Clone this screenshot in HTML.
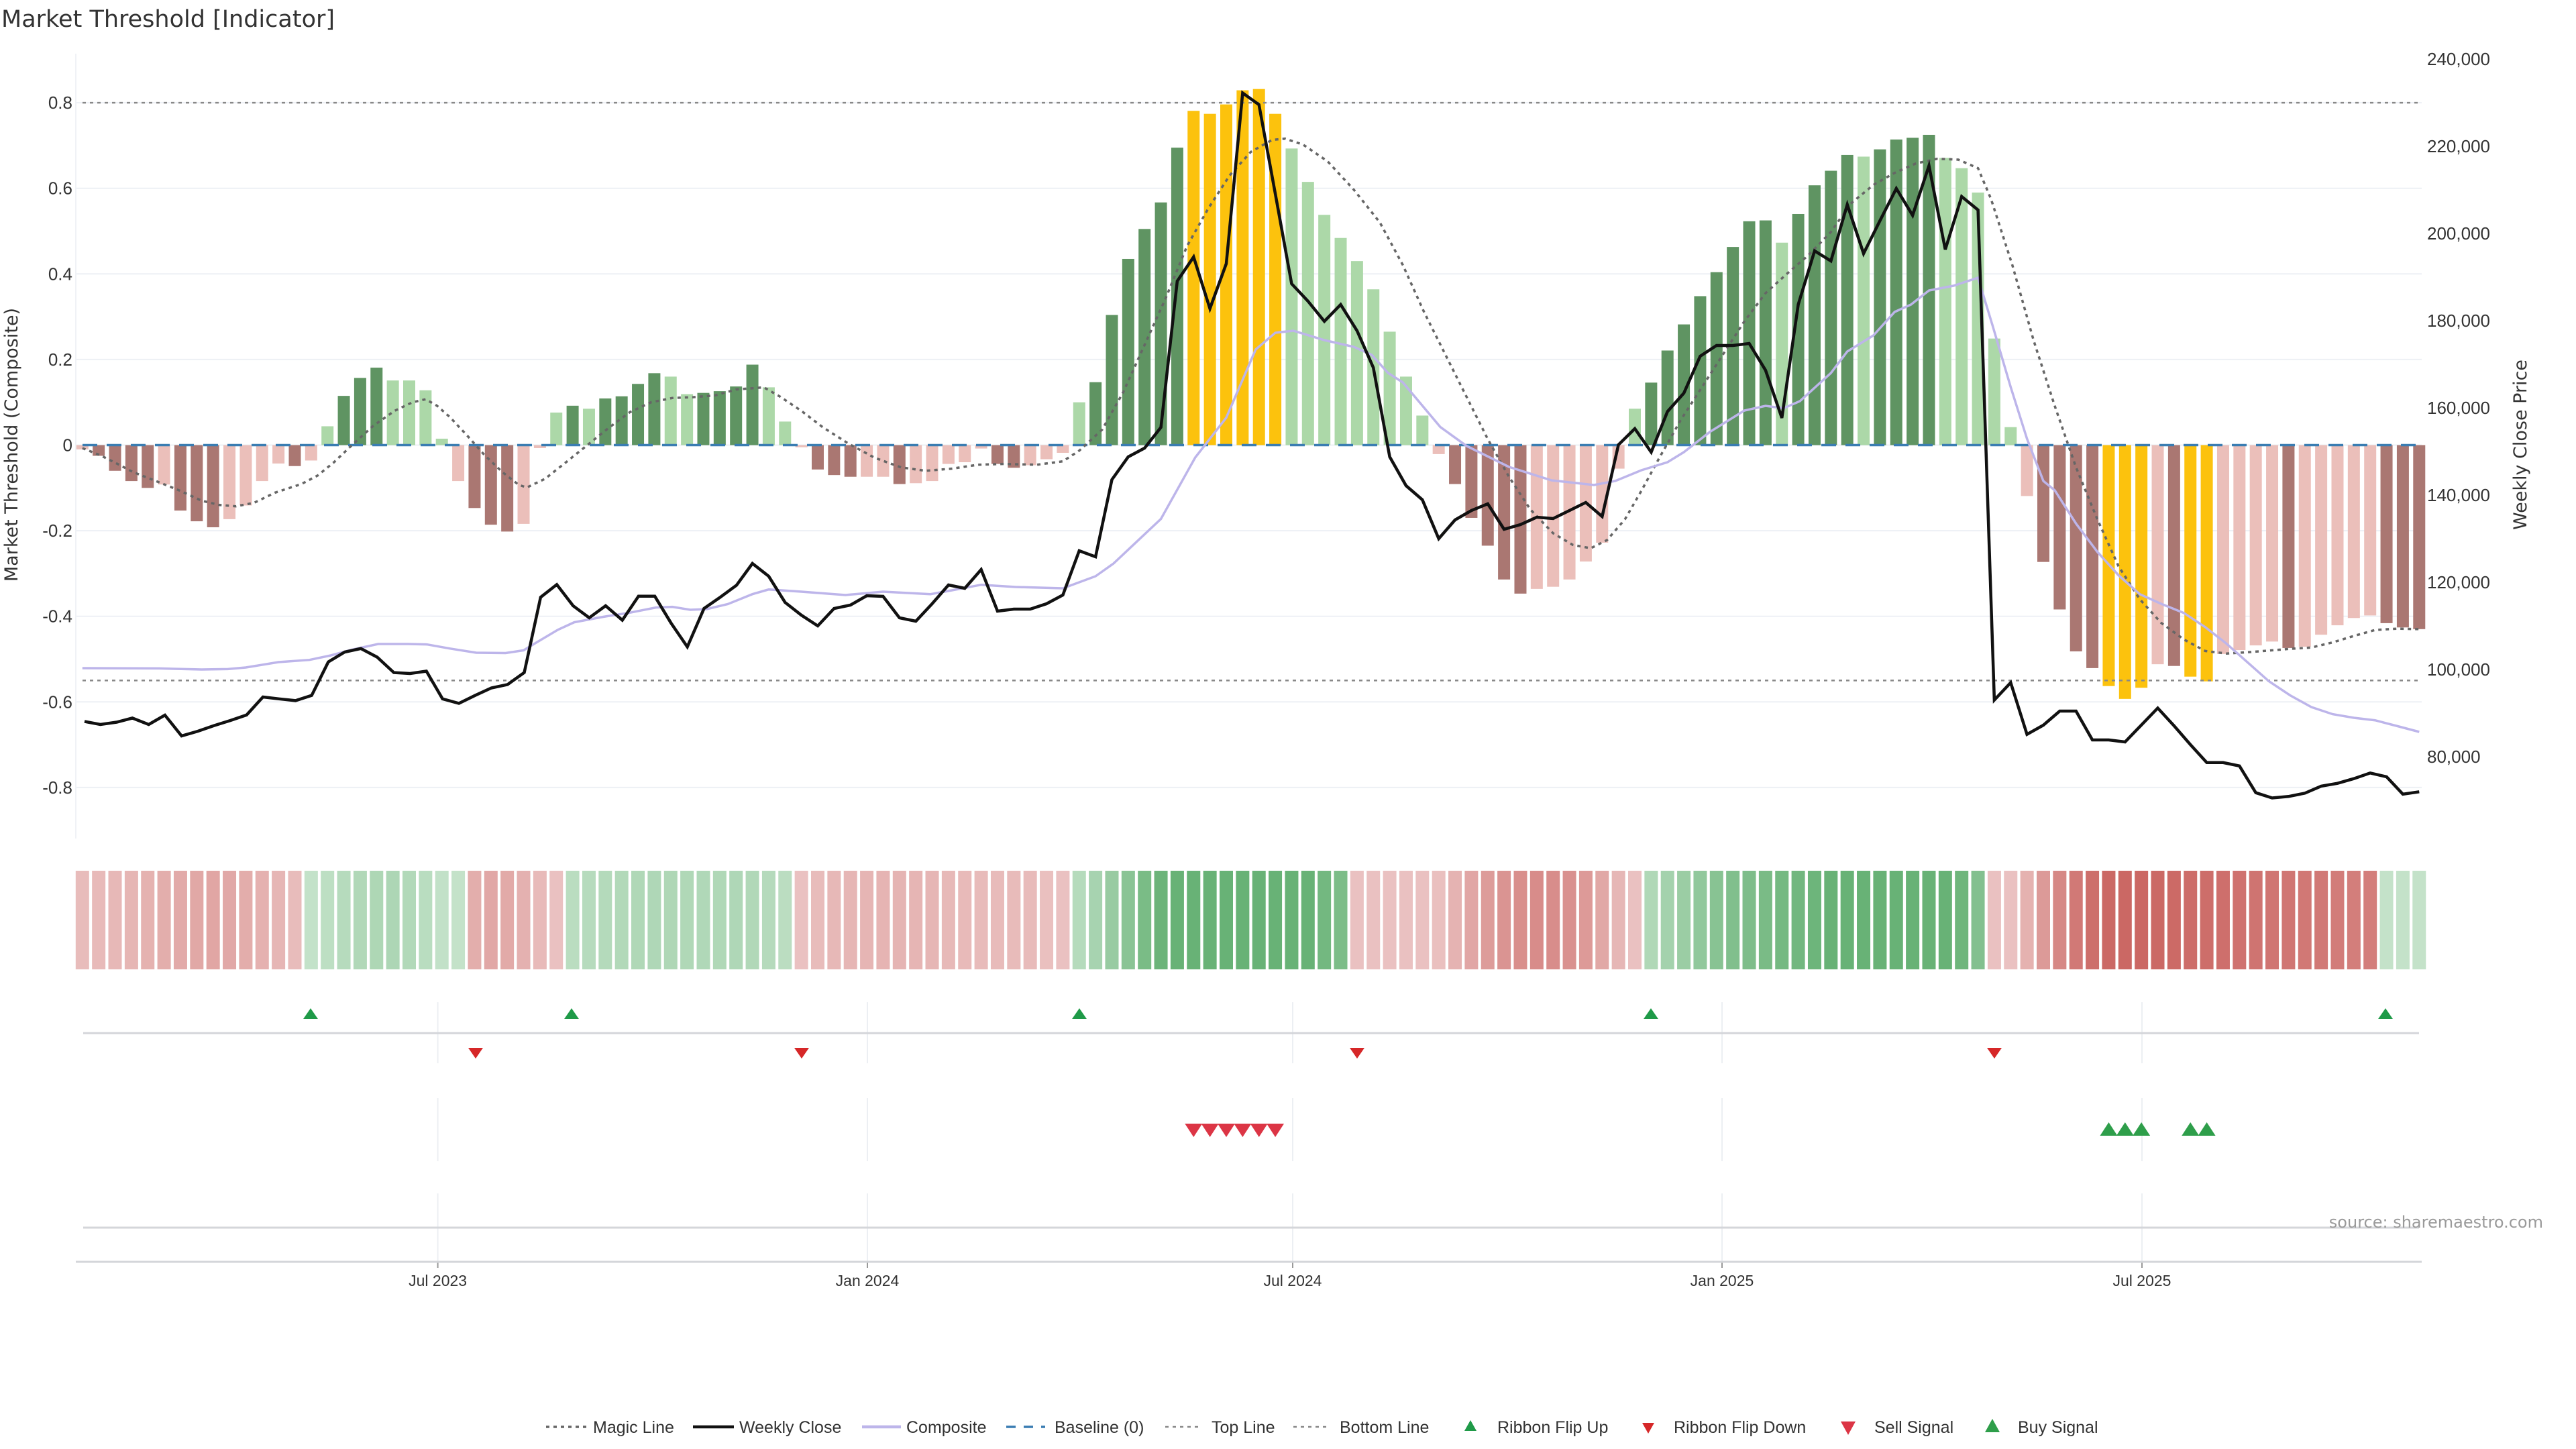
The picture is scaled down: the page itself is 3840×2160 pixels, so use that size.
<!DOCTYPE html>
<html><head><meta charset="utf-8">
<style>
html,body{margin:0;padding:0;background:#fff;}
svg{display:block;}
text{font-family:"Liberation Sans","DejaVu Sans",sans-serif;}
.dv{font-family:"DejaVu Sans","Liberation Sans",sans-serif;}
</style></head>
<body>
<svg id="s" xmlns="http://www.w3.org/2000/svg" width="3840" height="2160" viewBox="0 0 3840 2160" fill="#333">
<rect width="3840" height="2160" fill="#fff"/>
<text class="dv" x="2" y="40" font-size="35" fill="#333">Market Threshold [Indicator]</text>
<text class="dv" transform="translate(26,663) rotate(-90)" text-anchor="middle" font-size="27" fill="#333">Market Threshold (Composite)</text>
<text class="dv" transform="translate(3766,663) rotate(-90)" text-anchor="middle" font-size="27" fill="#333">Weekly Close Price</text>
<g id="g" fill="#333"></g>
<text class="dv" x="3791" y="1830" text-anchor="end" font-size="24" fill="#9a9a9a">source: sharemaestro.com</text>
</svg>
<script>
var NS="http://www.w3.org/2000/svg",G=document.getElementById("g");
function el(t,a,txt){var e=document.createElementNS(NS,t);for(var k in a)e.setAttribute(k,a[k]);if(txt!==undefined)e.textContent=txt;G.appendChild(e);return e;}
var X0=122.8,P=24.36,Z=663.5,U=638;
function X(i){return X0+P*i;}function Y(v){return Z-v*U;}
for(var k=-4;k<=4;k++){var v=k*0.2,y=Y(v);
 el("line",{x1:113,x2:3610,y1:y,y2:y,stroke:"#edf0f5","stroke-width":2});
 el("text",{x:108,y:y+9,"text-anchor":"end","font-size":26,fill:"#333"},(k==0?"0":v.toFixed(1)));}
el("line",{x1:113,x2:113,y1:80,y2:1250,stroke:"#f0f2f6","stroke-width":2});
for(var p=80000;p<=240000;p+=20000){var y=217.9+(220000-p)/20000*130;
 el("text",{x:3618,y:y+9,"font-size":26,fill:"#333"},p.toLocaleString("en-US"));}
var B=[[-0.01,'r'],[-0.025,'R'],[-0.06,'R'],[-0.084,'R'],[-0.1,'R'],[-0.092,'r'],[-0.153,'R'],[-0.178,'R'],[-0.192,'R'],[-0.173,'r'],[-0.141,'r'],[-0.084,'r'],[-0.043,'r'],[-0.049,'R'],[-0.036,'r'],[0.044,'g'],[0.115,'G'],[0.157,'G'],[0.181,'G'],[0.151,'g'],[0.151,'g'],[0.128,'g'],[0.015,'g'],[-0.084,'r'],[-0.147,'R'],[-0.186,'R'],[-0.202,'R'],[-0.184,'r'],[-0.007,'r'],[0.076,'g'],[0.092,'G'],[0.085,'g'],[0.109,'G'],[0.114,'G'],[0.143,'G'],[0.168,'G'],[0.16,'g'],[0.119,'g'],[0.122,'G'],[0.126,'G'],[0.137,'G'],[0.188,'G'],[0.135,'g'],[0.055,'g'],[-0.005,'r'],[-0.057,'R'],[-0.07,'R'],[-0.074,'R'],[-0.074,'r'],[-0.074,'r'],[-0.091,'R'],[-0.089,'r'],[-0.084,'r'],[-0.044,'r'],[-0.04,'r'],[-0.008,'r'],[-0.044,'R'],[-0.053,'R'],[-0.047,'r'],[-0.033,'r'],[-0.018,'r'],[0.10,'g'],[0.147,'G'],[0.304,'G'],[0.435,'G'],[0.505,'G'],[0.567,'G'],[0.695,'G'],[0.781,'Y'],[0.774,'Y'],[0.796,'Y'],[0.829,'Y'],[0.832,'Y'],[0.774,'Y'],[0.693,'g'],[0.615,'g'],[0.538,'g'],[0.484,'g'],[0.43,'g'],[0.364,'g'],[0.265,'g'],[0.16,'g'],[0.069,'g'],[-0.021,'r'],[-0.091,'R'],[-0.17,'R'],[-0.235,'R'],[-0.314,'R'],[-0.347,'R'],[-0.336,'r'],[-0.331,'r'],[-0.314,'r'],[-0.272,'r'],[-0.228,'r'],[-0.055,'r'],[0.085,'g'],[0.146,'G'],[0.221,'G'],[0.282,'G'],[0.348,'G'],[0.404,'G'],[0.463,'G'],[0.523,'G'],[0.525,'G'],[0.473,'g'],[0.54,'G'],[0.607,'G'],[0.641,'G'],[0.678,'G'],[0.674,'g'],[0.691,'G'],[0.714,'G'],[0.718,'G'],[0.725,'G'],[0.671,'g'],[0.647,'g'],[0.59,'g'],[0.249,'g'],[0.042,'g'],[-0.119,'r'],[-0.273,'R'],[-0.384,'R'],[-0.482,'R'],[-0.521,'R'],[-0.563,'Y'],[-0.593,'Y'],[-0.567,'Y'],[-0.512,'r'],[-0.516,'R'],[-0.541,'Y'],[-0.552,'Y'],[-0.488,'r'],[-0.479,'r'],[-0.468,'r'],[-0.459,'r'],[-0.474,'R'],[-0.471,'r'],[-0.443,'r'],[-0.421,'r'],[-0.404,'r'],[-0.398,'r'],[-0.416,'R'],[-0.426,'R'],[-0.43,'R']];
var C={G:"#5f9462",g:"#acd8a8",R:"#aa7772",r:"#ebbfba",Y:"#fcc20d"};
B.forEach(function(b,i){var y1=Y(b[0]),t=Math.min(y1,Z),h=Math.abs(y1-Z);
 el("rect",{x:X(i)-9,y:t,width:18,height:Math.max(h,1.5),fill:C[b[1]]});});
el("line",{x1:123,x2:3606,y1:Y(0.8),y2:Y(0.8),stroke:"#888","stroke-width":2.5,"stroke-dasharray":"5,6"});
el("line",{x1:123,x2:3606,y1:Y(-0.55),y2:Y(-0.55),stroke:"#888","stroke-width":2.5,"stroke-dasharray":"5,6"});
el("line",{x1:123,x2:3606,y1:Z,y2:Z,stroke:"#3a7db2","stroke-width":3.5,"stroke-dasharray":"22,14"});
var M=[[0,-0.007],[1.05,-0.023],[2.1,-0.043],[3.1,-0.063],[4.7,-0.087],[6,-0.107],[7.3,-0.13],[8.4,-0.14],[9.4,-0.143],[10.5,-0.135],[11.8,-0.111],[13.4,-0.091],[14.4,-0.071],[15.4,-0.04],[16.5,0],[17.8,0.045],[19.1,0.08],[20.2,0.1],[21,0.107],[21.7,0.092],[22.5,0.065],[23.6,0.02],[24.6,-0.023],[25.7,-0.063],[26.7,-0.093],[27.2,-0.099],[28.3,-0.079],[29.6,-0.04],[30.9,0],[32.2,0.04],[33.5,0.077],[34.8,0.1],[36.1,0.11],[37.4,0.112],[38.7,0.116],[40,0.13],[41.7,0.135],[42.7,0.113],[44,0.08],[45.3,0.042],[46.9,0.003],[48.5,-0.03],[50.1,-0.052],[51.6,-0.06],[53.2,-0.055],[54.8,-0.046],[56.3,-0.044],[58.4,-0.046],[60,-0.038],[61,-0.013],[62.4,0.036],[63.7,0.124],[65,0.234],[66.3,0.344],[67.6,0.465],[68.9,0.553],[70.2,0.63],[71.5,0.685],[72.8,0.713],[73.6,0.716],[74.7,0.702],[76.2,0.663],[77.8,0.597],[79.4,0.52],[80.8,0.421],[82.1,0.311],[83.4,0.212],[84.7,0.113],[86,0.014],[87.3,-0.074],[88.6,-0.15],[90,-0.206],[91.2,-0.233],[92.3,-0.241],[93.3,-0.222],[94.4,-0.173],[95.4,-0.107],[96.5,-0.03],[97.8,0.058],[99.1,0.135],[100.4,0.212],[101.7,0.289],[103,0.355],[104.3,0.4],[105.6,0.443],[107,0.498],[108.2,0.564],[109.6,0.608],[110.9,0.636],[112.2,0.658],[113.5,0.669],[114.8,0.667],[116,0.647],[116.8,0.575],[118.1,0.421],[119.4,0.245],[120.7,0.091],[122,-0.052],[123.3,-0.173],[124.6,-0.283],[125.9,-0.36],[127.2,-0.415],[128.6,-0.454],[129.9,-0.481],[131.2,-0.487],[132.5,-0.484],[135.1,-0.476],[136.4,-0.473],[137.7,-0.461],[139,-0.446],[140.3,-0.432],[141.6,-0.429],[143,-0.43]];
el("polyline",{points:M.map(function(p){return X(p[0]).toFixed(1)+","+Y(p[1]).toFixed(1);}).join(" "),fill:"none",stroke:"#666","stroke-width":3.5,"stroke-dasharray":"5,6"});
var CP=[[0,996],[4.7,996.4],[7.3,998],[8.9,997.4],[10,995],[12,987],[13.9,983.7],[15.2,977],[16.5,968.4],[18.1,960],[19.9,960],[21.1,960.7],[22.5,966.8],[24.1,973],[25.9,973.5],[27,969.4],[27.7,959],[29.1,938.8],[30.1,927.6],[31.9,919.4],[33.5,913.3],[35.1,905.6],[36.1,904.6],[37.2,909],[38.2,908],[39.5,900.5],[41,885.7],[42,878.7],[44,882],[46.7,887],[49,882],[51.9,885.7],[53.2,880],[55,871.7],[57.1,875],[60,877],[62,859],[63.1,840],[66,773.5],[68.1,682],[70,622.6],[71.8,521],[73,496],[74.1,493],[76,507],[77.8,517],[78.9,529],[79.9,556],[80.8,570],[83.1,636.6],[84.7,664.7],[87.3,696],[89.9,716],[92.5,723],[93.8,717],[95.4,701],[97,689],[98,674],[99.6,643.7],[101.7,612],[103,605],[104.1,608.6],[105.1,598],[107,556],[108,524],[109.6,500],[110.9,465],[111.9,454],[113,433],[114.5,426],[116,414],[116.9,486],[118,577],[119,654],[120,717],[120.7,731],[122,780.5],[123.3,822.5],[124.6,857.6],[125.9,885.7],[127.2,900],[128.6,913.8],[129.9,934.8],[131.2,959.3],[132.5,987.4],[133.8,1015.5],[135.1,1036.5],[136.4,1054],[137.7,1064.6],[139,1070],[140.3,1073.7],[141.6,1082],[143,1091]];
el("polyline",{points:CP.map(function(p){return X(p[0]).toFixed(1)+","+p[1];}).join(" "),fill:"none",stroke:"#bdb5ea","stroke-width":3.5});
var W=[[0.13,1075.5],[1.1,1080],[2.1,1076.5],[3.06,1070.4],[4.06,1080],[5.05,1066],[6.07,1097],[7.07,1090],[8.06,1081.6],[9.06,1074],[10.05,1065.8],[11.05,1039],[12.04,1041.8],[13.04,1044.4],[14.03,1036.7],[15.05,986.7],[16.05,972],[17.04,966.8],[18.04,979.6],[19.06,1002.6],[20.05,1004],[21.05,1000.5],[22.04,1041.8],[23.04,1048.5],[24.03,1036.7],[25.03,1025.5],[26.02,1020.4],[27.04,1002.6],[28.04,890.3],[29.03,871.4],[30.03,903],[31.02,920.9],[32.02,903],[33.04,924.5],[34.03,888.8],[35.03,888.8],[36.02,928.6],[37.02,964.3],[38.04,907],[39.03,890.3],[40.03,872.4],[41,840],[42,859],[43,898],[44,917],[45,933],[46,907],[47,902],[48,888],[49,889],[50,921],[51,926],[52,900],[53,872],[54,877],[55,849],[56,911],[57,908],[58,908],[59,900],[60,887],[61,821],[62,830],[63,715],[64,681],[65,668],[66,637],[67,419],[68,383],[69,460],[70,393],[71,138.6],[72,156],[73,289],[74,423],[75,449],[76,479],[77,454],[78,493],[79,548],[80,681],[81,724],[82,745],[83,803],[84,775],[85,761],[86,751],[87,789],[88,782],[89,771],[90,773],[91,761],[92,749],[93,770],[94,663],[95,639],[96,674],[97,613.5],[98,586],[99,531],[100,515],[101,515],[102,512],[103,552],[104,623],[105,454],[106,374],[107,389],[108,305],[109,378],[110,329],[111,281],[112,321],[113,247],[114,372],[115,293],[116,313],[117,1043.5],[118,1017.6],[119,1094.7],[120,1081],[121,1060],[122,1060],[123,1103],[124,1103],[125,1106],[126,1080.7],[127,1055.5],[128,1082],[129,1110],[130,1136.8],[131,1136.8],[132,1141.8],[133,1181.7],[134,1189.5],[135,1187.3],[136,1182.4],[137,1171.9],[138,1167.7],[139,1160.7],[140,1152.3],[141,1157.9],[142,1183.8],[143,1180.3]];
el("polyline",{points:W.map(function(p){return X(p[0]).toFixed(1)+","+p[1];}).join(" "),fill:"none",stroke:"#111","stroke-width":4.5});
function sg(i){if(i<=13)return -1;if(i<=23)return 1;if(i<=29)return -1;if(i<=43)return 1;if(i<=60)return -1;if(i<=77)return 1;if(i<=95)return -1;if(i<=116)return 1;if(i<=140)return -1;return 1;}
function mix(a,b,t){var r=[];for(var j=0;j<3;j++)r.push(Math.round(a[j]+(b[j]-a[j])*t));return "rgb("+r.join(",")+")";}
for(var i=0;i<144;i++){var s=0,n=0;for(var j=i-2;j<=i+2;j++){if(j>=0&&j<144){s+=B[j][0];n++;}}
 var m=Math.max(0,sg(i)*s/n),t=Math.min(1,0.22+m/0.8);
 var col=sg(i)>0?mix([222,240,225],[104,178,118],t):mix([244,222,222],[199,92,88],t);
 el("rect",{x:X(i)-10,y:1298,width:20,height:147,fill:col});}
var D=[[652.6,"Jul 2023"],[1293,"Jan 2024"],[1927,"Jul 2024"],[2567,"Jan 2025"],[3193,"Jul 2025"]];
D.forEach(function(d){[[1494,1585],[1637,1731],[1779,1880]].forEach(function(r){el("line",{x1:d[0],x2:d[0],y1:r[0],y2:r[1],stroke:"#eceff3","stroke-width":2});});
 el("line",{x1:d[0],x2:d[0],y1:1881,y2:1890,stroke:"#999","stroke-width":2});
 el("text",{x:d[0],y:1917,"text-anchor":"middle","font-size":23,fill:"#333"},d[1]);});
el("line",{x1:124,x2:3606,y1:1540,y2:1540,stroke:"#d4d6da","stroke-width":3});
el("line",{x1:124,x2:3606,y1:1830,y2:1830,stroke:"#d4d6da","stroke-width":3});
el("line",{x1:113,x2:3610,y1:1881,y2:1881,stroke:"#d4d6da","stroke-width":3});
function tri(x,y,w,h,up,c){var p=up?[[x-w/2,y+h/2],[x+w/2,y+h/2],[x,y-h/2]]:[[x-w/2,y-h/2],[x+w/2,y-h/2],[x,y+h/2]];
 el("polygon",{points:p.map(function(q){return q.join(",");}).join(" "),fill:c});}
[463,852,1609,2461,3556].forEach(function(x){tri(x,1511,22,16,true,"#1f9a48");});
[709,1195,2023,2973].forEach(function(x){tri(x,1570,22,16,false,"#d62728");});
[68,69,70,71,72,73].forEach(function(i){tri(X(i),1685,26,20,false,"#dc3545");});
[124,125,126,129,130].forEach(function(i){tri(X(i),1683,26,20,true,"#2e9e4a");});
var LY=2127;
el("line",{x1:814,x2:875,y1:LY,y2:LY,stroke:"#666","stroke-width":3.5,"stroke-dasharray":"5,6"});
el("line",{x1:1033,x2:1094,y1:LY,y2:LY,stroke:"#111","stroke-width":4.5});
el("line",{x1:1285,x2:1343,y1:LY,y2:LY,stroke:"#bdb5ea","stroke-width":4.5});
el("line",{x1:1500,x2:1558,y1:LY,y2:LY,stroke:"#3a7db2","stroke-width":3.5,"stroke-dasharray":"14,12"});
el("line",{x1:1737,x2:1791,y1:LY,y2:LY,stroke:"#888","stroke-width":2.5,"stroke-dasharray":"5,6"});
el("line",{x1:1928,x2:1982,y1:LY,y2:LY,stroke:"#888","stroke-width":2.5,"stroke-dasharray":"5,6"});
tri(2192,LY-2,18,16,true,"#1f9a48");tri(2457,LY+2,18,16,false,"#d62728");
tri(2755,LY+2,22,20,false,"#dc3545");tri(2970,LY-2,22,20,true,"#2e9e4a");
[[884,"Magic Line"],[1102,"Weekly Close"],[1351,"Composite"],[1572,"Baseline (0)"],[1806,"Top Line"],[1997,"Bottom Line"],[2232,"Ribbon Flip Up"],[2495,"Ribbon Flip Down"],[2794,"Sell Signal"],[3008,"Buy Signal"]].forEach(function(l){
 el("text",{x:l[0],y:LY+9,"font-size":25,fill:"#333"},l[1]);});
</script>
</body></html>
